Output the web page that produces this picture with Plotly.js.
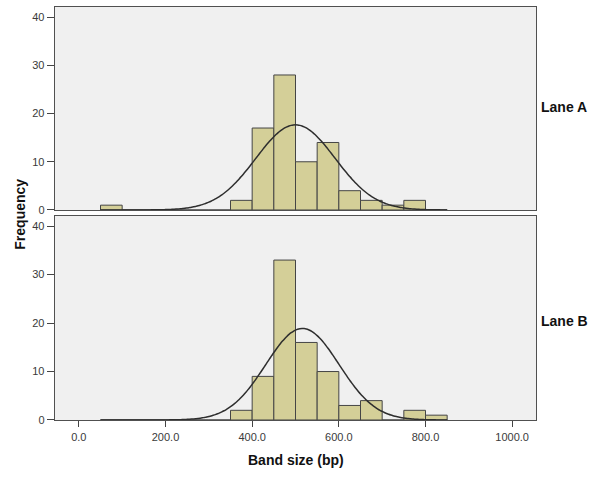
<!DOCTYPE html>
<html>
<head>
<meta charset="utf-8">
<script src="https://cdn.plot.ly/plotly-3.0.1.min.js"></script>
<style>
  html, body { margin: 0; padding: 0; background: #fff; }
  #chart { width: 600px; height: 484px; }
</style>
</head>
<body>
<div id="chart"></div>
<script>
// histogram bins (left edges, width 50 bp)
var binStarts = [50, 100, 150, 200, 250, 300, 350, 400, 450, 500, 550, 600, 650, 700, 750, 800];
var binWidth = 50;
var countsA = [1, 0, 0, 0, 0, 0, 2, 17, 28, 10, 14, 4, 2, 1, 2, 0];
var countsB = [0, 0, 0, 0, 0, 0, 2, 9, 33, 16, 10, 3, 4, 0, 2, 1];

// fitted normal curve parameters
var fitA = {mean: 500, sd: 91.5, n: 81};
var fitB = {mean: 516, sd: 84.5, n: 80};
var curveFrom = 50, curveTo = 850;

var xTicks = [0, 200, 400, 600, 800, 1000];
var yTicks = [0, 10, 20, 30, 40];

function normalCurve(fit) {
    var xs = [], ys = [];
    for (var x = curveFrom; x <= curveTo; x += 5) {
        var z = (x - fit.mean) / fit.sd;
        xs.push(x);
        ys.push(fit.n * binWidth * Math.exp(-0.5 * z * z) / (fit.sd * Math.sqrt(2 * Math.PI)));
    }
    return {x: xs, y: ys};
}

var barStyle = {color: '#d4cf98', line: {color: '#454545', width: 1}};
var lineStyle = {color: '#2e2e2e', width: 1.5, shape: 'spline'};

var curveA = normalCurve(fitA);
var curveB = normalCurve(fitB);

var data = [
    {type: 'bar', x: binStarts, y: countsA, width: binWidth, offset: 0,
     marker: barStyle, xaxis: 'x', yaxis: 'y', hoverinfo: 'x+y'},
    {type: 'scatter', mode: 'lines', x: curveA.x, y: curveA.y,
     line: lineStyle, xaxis: 'x', yaxis: 'y'},
    {type: 'bar', x: binStarts, y: countsB, width: binWidth, offset: 0,
     marker: barStyle, xaxis: 'x2', yaxis: 'y2', hoverinfo: 'x+y'},
    {type: 'scatter', mode: 'lines', x: curveB.x, y: curveB.y,
     line: lineStyle, xaxis: 'x2', yaxis: 'y2'}
];

var tickFont = {family: 'Arial, Liberation Sans, sans-serif', size: 11, color: '#3a3a3a'};
var boldFont = {family: 'Arial, Liberation Sans, sans-serif', size: 14, color: '#111', weight: 'bold'};

function yAxis(domain, anchor) {
    return {
        domain: domain, anchor: anchor, range: [0, 42.1],
        tickvals: yTicks, ticks: 'outside', ticklen: 7, tickcolor: '#444',
        showgrid: false, zeroline: false,
        showline: true, mirror: true, linecolor: '#505050', linewidth: 1.3,
        tickfont: tickFont, fixedrange: true
    };
}

function xAxis(anchor, showLabels) {
    return {
        domain: [0, 1], anchor: anchor, range: [-55, 1055],
        tickvals: xTicks, tickformat: '.1f',
        ticks: showLabels ? 'outside' : '', ticklen: 6, tickcolor: '#444',
        showticklabels: showLabels,
        showgrid: false, zeroline: false,
        showline: true, mirror: true, linecolor: '#505050', linewidth: 1.3,
        tickfont: tickFont, fixedrange: true
    };
}

var layout = {
    width: 600, height: 484,
    margin: {l: 55, r: 64, t: 7, b: 64},
    paper_bgcolor: '#ffffff',
    plot_bgcolor: '#f0f0f0',
    showlegend: false,
    bargap: 0,
    xaxis: xAxis('y', false),
    yaxis: yAxis([0.5085, 1], 'x'),
    xaxis2: xAxis('y2', true),
    yaxis2: yAxis([0, 0.494], 'x2'),
    annotations: [
        {text: 'Lane A', xref: 'paper', yref: 'paper', x: 1.006, y: 0.7585,
         xanchor: 'left', yanchor: 'middle', showarrow: false, font: boldFont},
        {text: 'Lane B', xref: 'paper', yref: 'paper', x: 1.006, y: 0.2405,
         xanchor: 'left', yanchor: 'middle', showarrow: false, font: boldFont},
        {text: 'Frequency', xref: 'paper', yref: 'paper', x: -0.072, y: 0.498,
         xanchor: 'center', yanchor: 'middle', textangle: -90, showarrow: false, font: boldFont},
        {text: 'Band size (bp)', xref: 'paper', yref: 'paper', x: 0.5, y: -0.096,
         xanchor: 'center', yanchor: 'middle', showarrow: false, font: boldFont}
    ]
};

Plotly.newPlot('chart', data, layout, {displayModeBar: false, staticPlot: true});
</script>
</body>
</html>
